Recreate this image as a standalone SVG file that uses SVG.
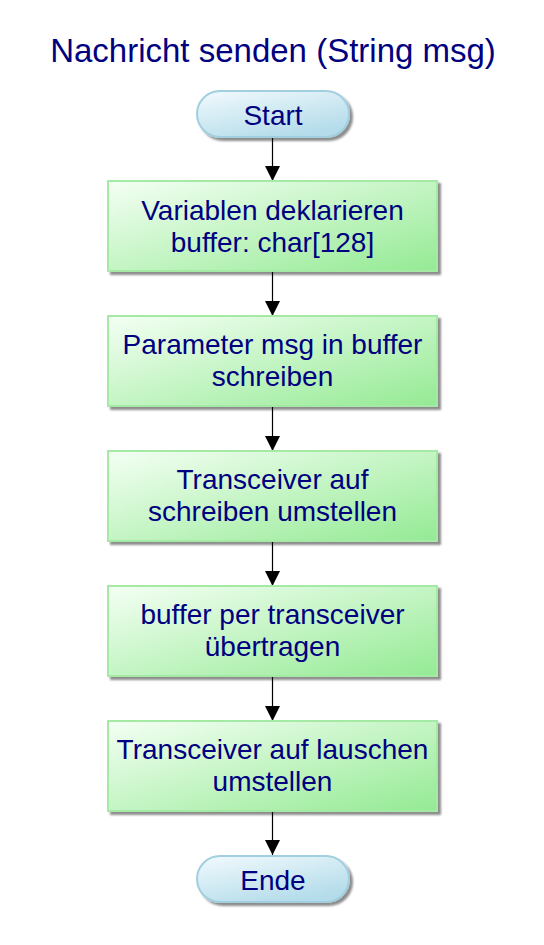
<svg xmlns="http://www.w3.org/2000/svg" width="544" height="945" viewBox="0 0 544 945">
<defs>
<linearGradient id="gBox" x1="0" y1="0" x2="1" y2="1">
<stop offset="0" stop-color="#f4fff4"/>
<stop offset="1" stop-color="#94ea94"/>
</linearGradient>
<linearGradient id="gTerm" x1="0" y1="0" x2="0.6" y2="1">
<stop offset="0" stop-color="#f2fafd"/>
<stop offset="1" stop-color="#b4dcea"/>
</linearGradient>
<filter id="sh" x="-10%" y="-10%" width="130%" height="140%">
<feGaussianBlur in="SourceAlpha" stdDeviation="1.2"/>
<feOffset dx="3" dy="3" result="b"/>
<feComponentTransfer><feFuncA type="linear" slope="0.45"/></feComponentTransfer>
<feMerge><feMergeNode/><feMergeNode in="SourceGraphic"/></feMerge>
</filter>
<marker id="arr" markerWidth="15" markerHeight="15" refX="15" refY="7.5" orient="auto" markerUnits="userSpaceOnUse">
<path d="M0,0 L15,7.5 L0,15 Z" fill="#000"/>
</marker>
</defs>
<style>
text{font-family:"Liberation Sans",Arial,sans-serif;fill:#000080;text-anchor:middle;}
.t{font-size:28px;}
.title{font-size:33px;}
.box{fill:url(#gBox);stroke:#a4eaa4;stroke-width:2;filter:url(#sh);}
.term{fill:url(#gTerm);stroke:#a2cfe0;stroke-width:2;filter:url(#sh);}
.c{stroke:#000;stroke-width:1.2;fill:none;marker-end:url(#arr);}
</style>
<text class="title" x="273" y="62">Nachricht senden (String msg)</text>
<g id="connectors">
<line class="c" x1="272.5" y1="137" x2="272.5" y2="181"/>
<line class="c" x1="272.5" y1="272" x2="272.5" y2="316"/>
<line class="c" x1="272.5" y1="407" x2="272.5" y2="451"/>
<line class="c" x1="272.5" y1="542" x2="272.5" y2="586"/>
<line class="c" x1="272.5" y1="677" x2="272.5" y2="721"/>
<line class="c" x1="272.5" y1="812" x2="272.5" y2="855"/>
</g>
<g id="start">
<rect class="term" x="197" y="91" width="152" height="46" rx="23"/>
<text class="t" x="273" y="125">Start</text>
</g>
<g id="n1">
<rect class="box" x="108" y="181" width="329" height="90"/>
<text class="t" x="272.5" y="220">Variablen deklarieren</text>
<text class="t" x="272.5" y="252">buffer: char[128]</text>
</g>
<g id="n2">
<rect class="box" x="108" y="316" width="329" height="90"/>
<text class="t" x="272.5" y="354">Parameter msg in buffer</text>
<text class="t" x="272.5" y="386">schreiben</text>
</g>
<g id="n3">
<rect class="box" x="108" y="451" width="329" height="90"/>
<text class="t" x="272.5" y="489">Transceiver auf</text>
<text class="t" x="272.5" y="521">schreiben umstellen</text>
</g>
<g id="n4">
<rect class="box" x="108" y="586" width="329" height="90"/>
<text class="t" x="272.5" y="624">buffer per transceiver</text>
<text class="t" x="272.5" y="656">übertragen</text>
</g>
<g id="n5">
<rect class="box" x="108" y="721" width="329" height="90"/>
<text class="t" x="272.5" y="759">Transceiver auf lauschen</text>
<text class="t" x="272.5" y="791">umstellen</text>
</g>
<g id="end">
<rect class="term" x="197" y="856" width="152" height="46" rx="23"/>
<text class="t" x="273" y="890">Ende</text>
</g>
</svg>
